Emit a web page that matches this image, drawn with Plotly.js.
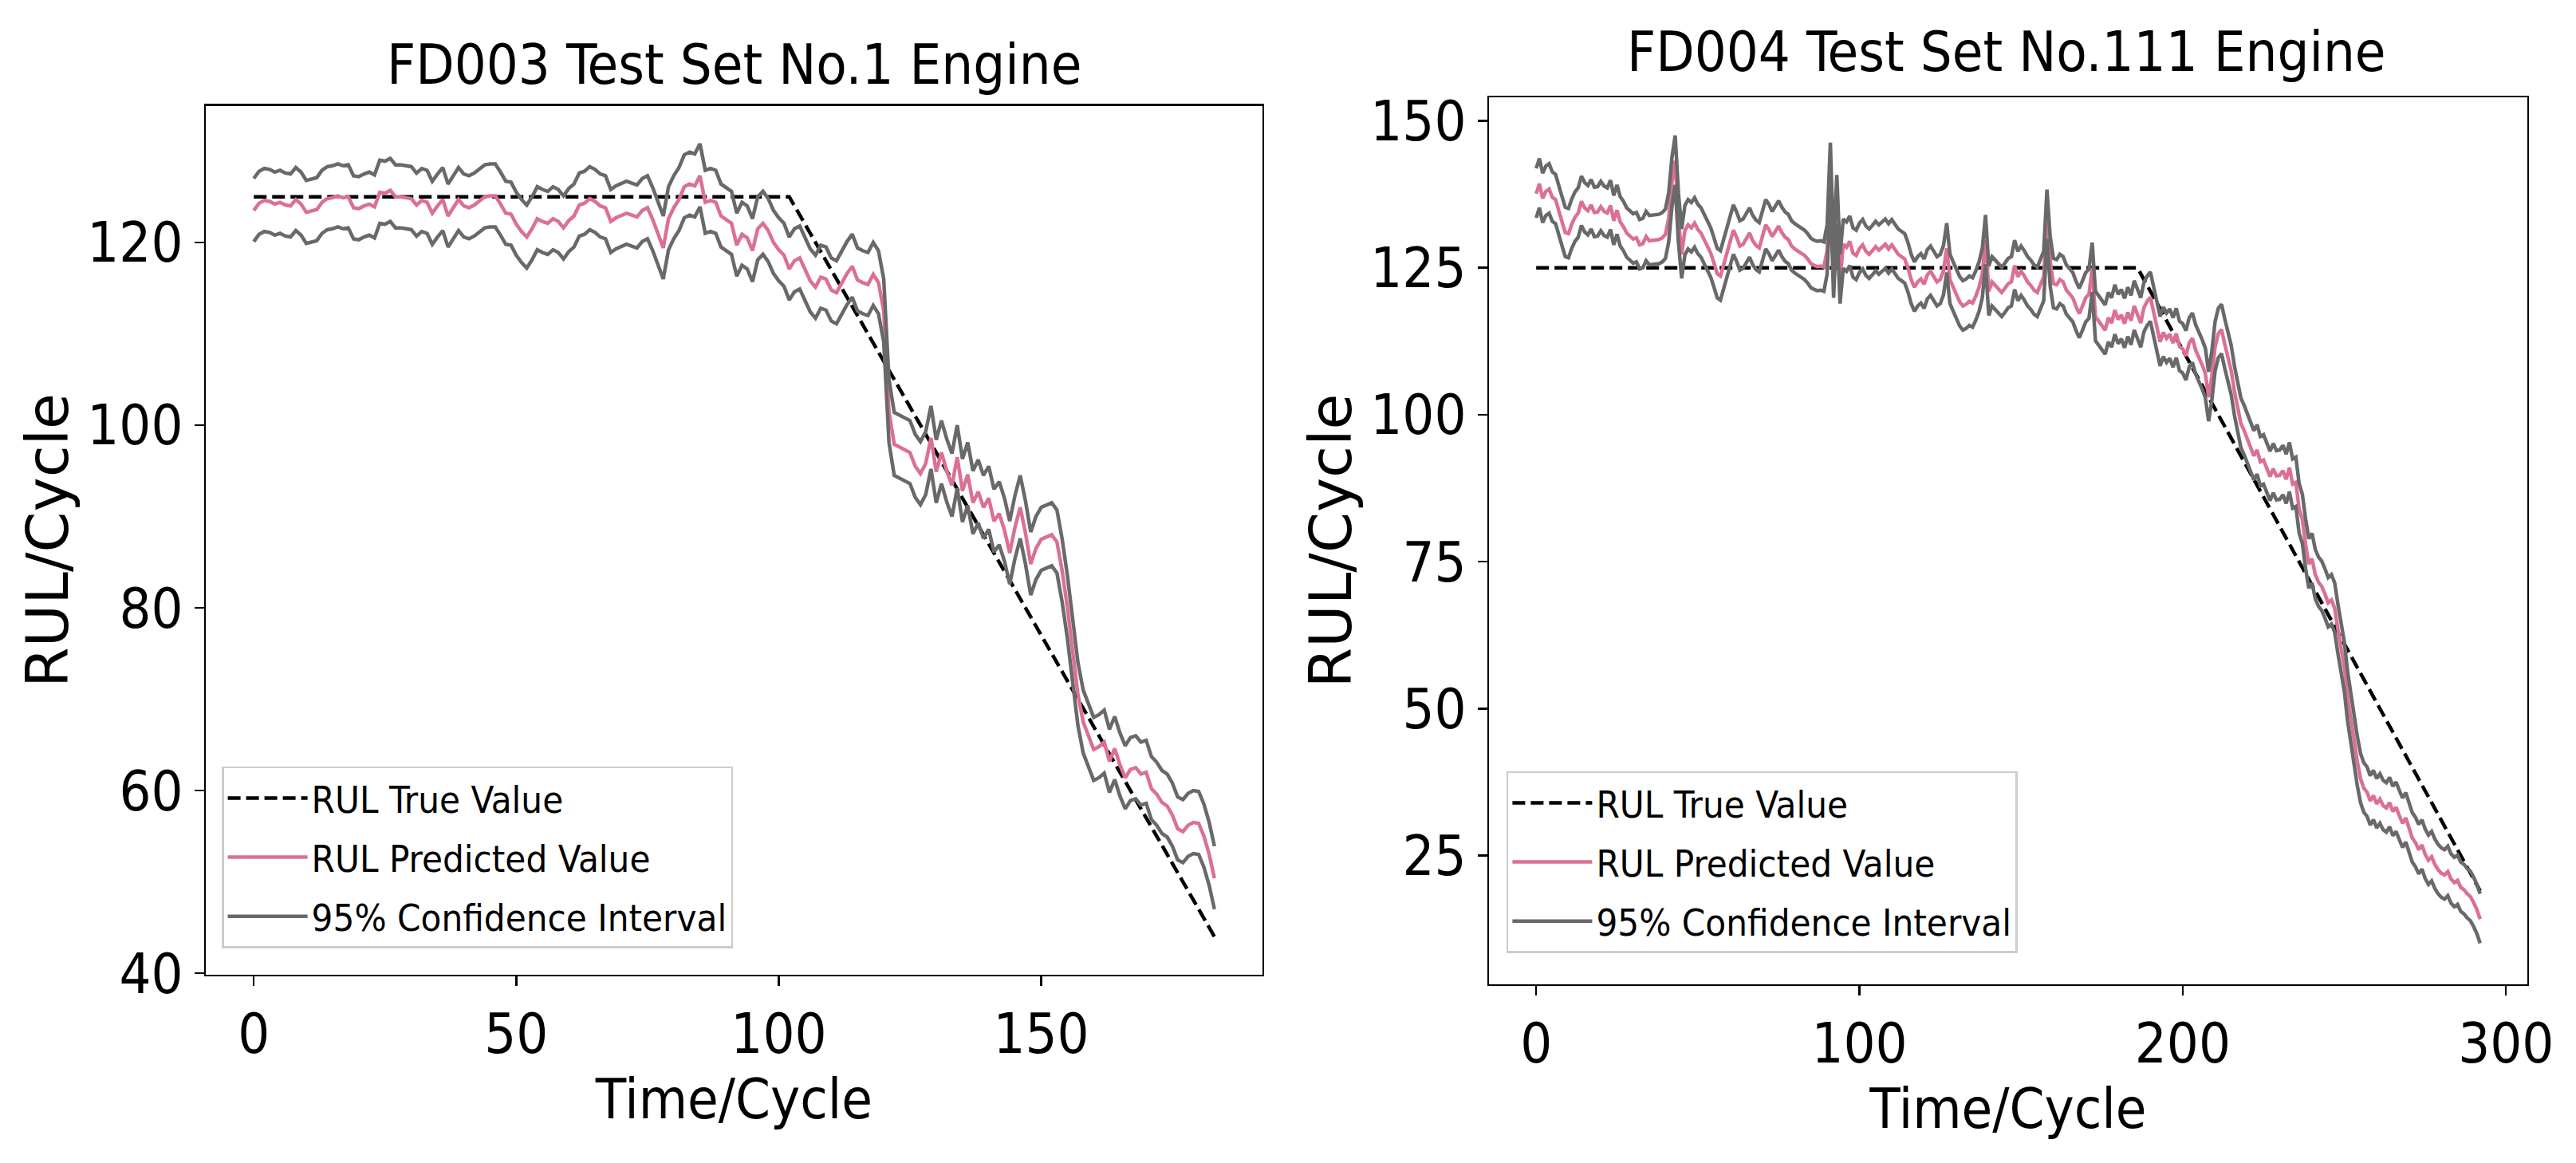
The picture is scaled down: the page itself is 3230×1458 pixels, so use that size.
<!DOCTYPE html>
<html>
<head>
<meta charset="utf-8">
<script src="https://cdn.plot.ly/plotly-3.0.1.min.js"></script>
<style>
html,body{margin:0;padding:0;background:#fff;}
#chart{width:3230px;height:1458px;}
</style>
</head>
<body>
<div id="chart"></div>
<script>
// ---------- FD003 Test Set No.1 Engine ----------
const fd003TrueX = [0, 102, 183];
const fd003TrueY = [125, 125, 44];
const fd003Pred = [
123.5,124.3,124.6,124.5,124.2,124.4,124.1,124.0,124.7,124.2,
123.3,123.4,123.6,124.4,124.8,124.9,125.1,124.9,125.0,123.8,
123.7,124.0,124.2,123.9,125.5,125.4,125.7,125.0,125.0,124.9,
124.8,124.1,124.6,124.4,123.2,124.0,124.7,122.9,123.8,124.7,
124.0,123.8,124.1,124.6,125.0,125.1,125.1,124.2,123.2,123.1,
122.0,121.2,120.6,121.5,122.6,122.3,122.1,122.6,122.3,121.6,
122.4,122.9,124.1,124.3,124.8,124.5,124.0,123.8,122.3,122.7,
122.9,123.2,123.0,122.8,123.5,123.8,122.5,121.0,119.4,122.6,
123.8,124.7,126.1,126.4,126.2,127.3,124.4,124.6,124.4,122.9,
122.5,122.1,119.7,120.9,120.5,119.1,121.5,122.1,121.3,120.0,
119.2,118.6,117.1,118.0,118.3,117.1,115.8,115.1,116.2,116.0,
114.8,114.5,115.6,116.6,117.4,115.9,115.6,115.4,116.5,115.6,
112.5,101.5,97.9,97.6,97.3,97.0,95.5,94.7,95.8,98.6,
94.9,97.0,95.0,93.4,96.5,92.8,94.6,91.5,92.7,91.0,
92.0,89.5,90.3,88.5,86.0,88.8,91.0,88.2,84.8,86.5,
87.5,87.8,88.0,87.2,84.0,80.0,75.5,70.5,67.5,66.1,
64.5,64.8,65.3,63.2,64.6,62.8,61.4,62.3,62.5,61.8,
62.0,60.2,59.6,58.7,58.3,57.3,55.8,55.5,56.2,56.5,
56.4,55.0,53.0,50.4];
const fd003Upper = [
127.0,127.8,128.1,128.0,127.7,127.9,127.6,127.5,128.2,127.7,
126.8,126.9,127.1,127.9,128.3,128.4,128.6,128.4,128.5,127.3,
127.2,127.5,127.7,127.4,129.0,128.9,129.2,128.5,128.5,128.4,
128.3,127.6,128.1,127.9,126.7,127.5,128.2,126.4,127.3,128.2,
127.5,127.3,127.6,128.1,128.5,128.6,128.6,127.7,126.7,126.6,
125.5,124.7,124.1,125.0,126.1,125.8,125.6,126.1,125.8,125.1,
125.9,126.4,127.6,127.8,128.3,128.0,127.5,127.3,125.8,126.2,
126.4,126.7,126.5,126.3,127.0,127.3,126.0,124.5,122.9,126.1,
127.3,128.2,129.6,129.9,129.7,130.8,127.9,128.1,127.9,126.4,
126.0,125.6,123.2,124.4,124.0,122.6,125.0,125.6,124.8,123.5,
122.7,122.1,120.6,121.5,121.8,120.6,119.3,118.6,119.7,119.5,
118.3,118.0,119.1,120.1,120.9,119.4,119.1,118.9,120.0,119.1,
116.0,105.0,101.4,101.1,100.8,100.5,99.0,98.2,99.3,102.1,
98.4,100.5,98.5,96.9,100.0,96.3,98.1,95.0,96.2,94.5,
95.5,93.0,93.8,92.0,89.5,92.3,94.5,91.7,88.3,90.0,
91.0,91.3,91.5,90.7,87.5,83.5,79.0,74.0,71.0,69.6,
68.0,68.3,68.8,66.7,68.1,66.3,64.9,65.8,66.0,65.3,
65.5,63.7,63.1,62.2,61.8,60.8,59.3,59.0,59.7,60.0,
59.9,58.5,56.5,53.9];
const fd003Lower = [
120.1,120.9,121.2,121.1,120.8,121.0,120.7,120.6,121.3,120.8,
119.9,120.0,120.2,121.0,121.4,121.5,121.7,121.5,121.6,120.4,
120.3,120.6,120.8,120.5,122.1,122.0,122.3,121.6,121.6,121.5,
121.4,120.7,121.2,121.0,119.8,120.6,121.3,119.5,120.4,121.3,
120.6,120.4,120.7,121.2,121.6,121.7,121.7,120.8,119.8,119.7,
118.6,117.8,117.2,118.1,119.2,118.9,118.7,119.2,118.9,118.2,
119.0,119.5,120.7,120.9,121.4,121.1,120.6,120.4,118.9,119.3,
119.5,119.8,119.6,119.4,120.1,120.4,119.1,117.6,116.0,119.2,
120.4,121.3,122.7,123.0,122.8,123.9,121.0,121.2,121.0,119.5,
119.1,118.7,116.3,117.5,117.1,115.7,118.1,118.7,117.9,116.6,
115.8,115.2,113.7,114.6,114.9,113.7,112.4,111.7,112.8,112.6,
111.4,111.1,112.2,113.2,114.0,112.5,112.2,112.0,113.1,112.2,
109.1,98.1,94.5,94.2,93.9,93.6,92.1,91.3,92.4,95.2,
91.5,93.6,91.6,90.0,93.1,89.4,91.2,88.1,89.3,87.6,
88.6,86.1,86.9,85.1,82.6,85.4,87.6,84.8,81.4,83.1,
84.1,84.4,84.6,83.8,80.6,76.6,72.1,67.1,64.1,62.7,
61.1,61.4,61.9,59.8,61.2,59.4,58.0,58.9,59.1,58.4,
58.6,56.8,56.2,55.3,54.9,53.9,52.4,52.1,52.8,53.1,
53.0,51.6,49.6,47.0];

// ---------- FD004 Test Set No.111 Engine ----------
const fd004TrueX = [0, 186, 292];
const fd004TrueY = [125, 125, 19];
const fd004Pred = [
137.6,139.3,136.8,138.0,138.4,137.0,136.6,134.5,132.8,131.0,
130.8,132.4,133.6,134.3,136.3,135.2,134.7,135.7,134.4,134.5,
135.4,134.6,134.3,135.6,133.0,134.8,132.8,132.0,130.9,130.4,
129.9,130.1,128.9,129.1,130.3,129.6,129.7,129.8,129.8,130.1,
130.7,133.5,139.5,143.2,133.5,127.3,131.3,132.3,131.8,132.6,
131.5,130.9,129.8,128.9,127.5,125.8,124.0,123.6,125.5,127.1,
129.5,131.4,130.2,128.7,129.0,130.1,130.9,129.6,128.8,128.4,
130.6,132.3,131.5,130.3,131.2,132.1,131.0,130.2,129.8,128.7,
128.2,127.8,127.4,127.1,126.5,125.7,125.4,125.2,125.3,125.1,
128.0,142.0,124.0,136.5,123.0,129.0,128.5,129.5,127.5,127.1,
128.3,128.9,127.8,127.3,127.9,128.6,128.0,128.5,129.0,128.2,
128.9,128.1,127.3,126.9,126.5,125.0,123.0,121.7,122.6,123.1,
122.2,123.8,124.4,123.5,122.6,123.0,124.5,128.3,123.0,121.7,
120.5,119.2,118.5,118.8,119.3,119.0,120.2,121.7,124.0,129.7,
121.0,122.6,122.0,121.3,120.8,121.5,122.3,122.6,125.4,123.5,
124.4,123.6,122.6,122.0,121.2,120.8,122.0,123.5,134.0,126.0,
122.3,122.1,123.0,122.6,121.2,120.5,119.9,118.4,117.2,118.5,
119.9,120.5,125.0,116.7,116.0,115.3,114.4,116.5,115.6,117.8,
116.2,117.0,115.5,117.4,116.0,118.5,117.2,115.6,118.2,119.3,
120.0,117.2,114.5,112.4,114.0,113.0,113.7,112.2,113.8,111.6,
111.2,110.0,112.2,113.0,111.0,109.8,108.5,107.0,103.0,106.5,
111.5,113.8,114.5,112.0,110.0,107.5,104.0,101.0,98.5,97.3,
95.8,94.5,93.0,94.0,92.0,92.3,91.0,89.5,90.8,89.6,
89.7,90.5,89.0,91.0,88.2,88.5,84.0,82.2,78.0,74.6,
75.5,72.8,71.5,70.8,69.5,68.0,68.5,67.1,63.5,60.0,
57.0,52.0,48.0,44.5,41.0,38.1,36.5,35.8,34.3,35.2,
33.8,34.6,33.5,33.1,34.0,32.5,33.2,31.8,30.5,31.4,
29.5,28.0,27.2,26.0,26.8,25.2,24.2,24.8,23.5,22.6,
22.0,21.7,22.3,21.0,20.4,20.8,19.6,19.2,18.5,18.0,
17.0,15.8,14.2];
const fd004Upper = [
141.9,143.6,141.1,142.3,142.7,141.3,140.9,138.8,137.1,135.3,
135.1,136.7,137.9,138.6,140.6,139.5,139.0,140.0,138.7,138.8,
139.7,138.9,138.6,139.9,137.3,139.1,137.1,136.3,135.2,134.7,
134.2,134.4,133.2,133.4,134.6,133.9,134.0,134.1,134.1,134.4,
135.0,137.8,143.8,147.5,137.8,131.6,135.6,136.6,136.1,136.9,
135.8,135.2,134.1,133.2,131.8,130.1,128.3,127.9,129.8,131.4,
133.8,135.7,134.5,133.0,133.3,134.4,135.2,133.9,133.1,132.7,
134.9,136.6,135.8,134.6,135.5,136.4,135.3,134.5,134.1,133.0,
132.5,132.1,131.7,131.4,130.8,130.0,129.7,129.5,129.6,129.4,
132.3,146.3,128.3,140.8,127.3,133.3,132.8,133.8,131.8,131.4,
132.6,133.2,132.1,131.6,132.2,132.9,132.3,132.8,133.3,132.5,
133.2,132.4,131.6,131.2,130.8,129.3,127.3,126.0,126.9,127.4,
126.5,128.1,128.7,127.8,126.9,127.3,128.8,132.6,127.3,126.0,
124.8,123.5,122.8,123.1,123.6,123.3,124.5,126.0,128.3,134.0,
125.3,126.9,126.3,125.6,125.1,125.8,126.6,126.9,129.7,127.8,
128.7,127.9,126.9,126.3,125.5,125.1,126.3,127.8,138.3,130.3,
126.6,126.4,127.3,126.9,125.5,124.8,124.2,122.7,121.5,122.8,
124.2,124.8,129.3,121.0,120.3,119.6,118.7,120.8,119.9,122.1,
120.5,121.3,119.8,121.7,120.3,122.8,121.5,119.9,122.5,123.6,
124.3,121.5,118.8,116.7,118.3,117.3,118.0,116.5,118.1,115.9,
115.5,114.3,116.5,117.3,115.3,114.1,112.8,111.3,107.3,110.8,
115.8,118.1,118.8,116.3,114.3,111.8,108.3,105.3,102.8,101.6,
100.1,98.8,97.3,98.3,96.3,96.6,95.3,93.8,95.1,93.9,
94.0,94.8,93.3,95.3,92.5,92.8,88.3,86.5,82.3,78.9,
79.8,77.1,75.8,75.1,73.8,72.3,72.8,71.4,67.8,64.3,
61.3,56.3,52.3,48.8,45.3,42.4,40.8,40.1,38.6,39.5,
38.1,38.9,37.8,37.4,38.3,36.8,37.5,36.1,34.8,35.7,
33.8,32.3,31.5,30.3,31.1,29.5,28.5,29.1,27.8,26.9,
26.3,26.0,26.6,25.3,24.7,25.1,23.9,23.5,22.8,22.3,
21.3,20.1,18.5];
const fd004Lower = [
133.5,135.2,132.7,133.9,134.3,132.9,132.5,130.4,128.7,126.9,
126.7,128.3,129.5,130.2,132.2,131.1,130.6,131.6,130.3,130.4,
131.3,130.5,130.2,131.5,128.9,130.7,128.7,127.9,126.8,126.3,
125.8,126.0,124.8,125.0,126.2,125.5,125.6,125.7,125.7,126.0,
126.6,129.4,135.4,139.1,129.4,123.2,127.2,128.2,127.7,128.5,
127.4,126.8,125.7,124.8,123.4,121.7,119.9,119.5,121.4,123.0,
125.4,127.3,126.1,124.6,124.9,126.0,126.8,125.5,124.7,124.3,
126.5,128.2,127.4,126.2,127.1,128.0,126.9,126.1,125.7,124.6,
124.1,123.7,123.3,123.0,122.4,121.6,121.3,121.1,121.2,121.0,
123.9,137.9,119.9,132.4,118.9,124.9,124.4,125.4,123.4,123.0,
124.2,124.8,123.7,123.2,123.8,124.5,123.9,124.4,124.9,124.1,
124.8,124.0,123.2,122.8,122.4,120.9,118.9,117.6,118.5,119.0,
118.1,119.7,120.3,119.4,118.5,118.9,120.4,124.2,118.9,117.6,
116.4,115.1,114.4,114.7,115.2,114.9,116.1,117.6,119.9,125.6,
116.9,118.5,117.9,117.2,116.7,117.4,118.2,118.5,121.3,119.4,
120.3,119.5,118.5,117.9,117.1,116.7,117.9,119.4,129.9,121.9,
118.2,118.0,118.9,118.5,117.1,116.4,115.8,114.3,113.1,114.4,
115.8,116.4,120.9,112.6,111.9,111.2,110.3,112.4,111.5,113.7,
112.1,112.9,111.4,113.3,111.9,114.4,113.1,111.5,114.1,115.2,
115.9,113.1,110.4,108.3,109.9,108.9,109.6,108.1,109.7,107.5,
107.1,105.9,108.1,108.9,106.9,105.7,104.4,102.9,98.9,102.4,
107.4,109.7,110.4,107.9,105.9,103.4,99.9,96.9,94.4,93.2,
91.7,90.4,88.9,89.9,87.9,88.2,86.9,85.4,86.7,85.5,
85.6,86.4,84.9,86.9,84.1,84.4,79.9,78.1,73.9,70.5,
71.4,68.7,67.4,66.7,65.4,63.9,64.4,63.0,59.4,55.9,
52.9,47.9,43.9,40.4,36.9,34.0,32.4,31.7,30.2,31.1,
29.7,30.5,29.4,29.0,29.9,28.4,29.1,27.7,26.4,27.3,
25.4,23.9,23.1,21.9,22.7,21.1,20.1,20.7,19.4,18.5,
17.9,17.6,18.2,16.9,16.3,16.7,15.5,15.1,14.4,13.9,
12.9,11.7,10.1];

const seriesNames = ['RUL True Value', 'RUL Predicted Value', '95% Confidence Interval'];
const chartTitles = ['FD003 Test Set No.1 Engine', 'FD004 Test Set No.111 Engine'];
const xLabel = 'Time/Cycle';
const yLabel = 'RUL/Cycle';

// ---------- font pick ----------
function pickFamily() {
  const ctx = document.createElement('canvas').getContext('2d');
  const s = 'FD003 Test Set No.1 Engine';
  const w = f => { ctx.font = '70px ' + f; return ctx.measureText(s).width; };
  const base = w('monospace');
  const cands = ['DejaVu Sans Condensed', 'Liberation Sans Narrow'];
  for (const c of cands) {
    if (Math.abs(w("'" + c + "', monospace") - base) > 0.5) return c + ', DejaVu Sans, sans-serif';
  }
  return 'DejaVu Sans, sans-serif';
}
const FAMILY = pickFamily();
const FAMILY_REG = 'DejaVu Sans, sans-serif';

const PINK = '#DB7093';
const GREY = '#696969';
const LW = 4.5;

function idx(arr) { return arr.map((_, i) => i); }

function tracesFor(trueX, trueY, pred, up, lo, xa, ya, lg) {
  return [
    {x: trueX, y: trueY, type: 'scatter', mode: 'lines', name: seriesNames[0], legendgroup: 'true',
     line: {color: '#000000', width: LW, dash: '16px,7px'}, xaxis: xa, yaxis: ya, legend: lg},
    {x: idx(pred), y: pred, type: 'scatter', mode: 'lines', name: seriesNames[1], legendgroup: 'pred',
     line: {color: PINK, width: LW}, xaxis: xa, yaxis: ya, legend: lg},
    {x: idx(up), y: up, type: 'scatter', mode: 'lines', name: seriesNames[2], legendgroup: 'ci',
     line: {color: GREY, width: LW}, xaxis: xa, yaxis: ya, legend: lg},
    {x: idx(lo), y: lo, type: 'scatter', mode: 'lines', name: seriesNames[2], legendgroup: 'ci', showlegend: false,
     line: {color: GREY, width: LW}, xaxis: xa, yaxis: ya, legend: lg}
  ];
}

const data = [
  ...tracesFor(fd003TrueX, fd003TrueY, fd003Pred, fd003Upper, fd003Lower, 'x', 'y', 'legend'),
  ...tracesFor(fd004TrueX, fd004TrueY, fd004Pred, fd004Upper, fd004Lower, 'x2', 'y2', 'legend2')
];

const TICKF = {family: FAMILY, size: 70, color: '#000'};
const XTITLEF = {family: FAMILY, size: 70, color: '#000'};
const YTITLEF = {family: FAMILY_REG, size: 73, color: '#000'};
function axisBase(extra) {
  return Object.assign({
    showline: true, mirror: true, linecolor: '#000', linewidth: 2.5,
    ticks: 'outside', ticklen: 12, tickwidth: 2.5, tickcolor: '#000',
    showgrid: false, zeroline: false, tickfont: TICKF, automargin: false
  }, extra);
}
const legendBase = {
  xanchor: 'left', yanchor: 'top', bgcolor: 'rgba(255,255,255,0.8)',
  bordercolor: '#cccccc', borderwidth: 2.5, itemwidth: 100,
  traceorder: 'grouped', tracegroupgap: 10,
  font: {family: FAMILY, size: 47, color: '#000'}
};

const layout = {
  width: 3230, height: 1458,
  margin: {l: 0, r: 0, t: 0, b: 0, pad: 0},
  paper_bgcolor: '#fff', plot_bgcolor: '#fff',
  showlegend: true,
  xaxis: axisBase({domain: [0.07988, 0.49009], range: [-9.15, 192.15], dtick: 50, tick0: 0, anchor: 'y',
    title: {text: xLabel, font: XTITLEF, standoff: 1}}),
  yaxis: axisBase({domain: [0.16187, 0.90878], range: [39.83, 134.93], dtick: 20, tick0: 0, anchor: 'x',
    title: {text: yLabel, font: YTITLEF, standoff: 0}}),
  xaxis2: axisBase({domain: [0.57802, 0.98111], range: [-14.6, 306.6], dtick: 100, tick0: 0, anchor: 'y2',
    title: {text: xLabel, font: XTITLEF, standoff: 1}}),
  yaxis2: axisBase({domain: [0.15364, 0.91632], range: [3.1, 154.0], dtick: 25, tick0: 0, anchor: 'x2',
    title: {text: yLabel, font: YTITLEF, standoff: 0}}),
  legend: Object.assign({x: 0.0861, y: 0.3409}, legendBase),
  legend2: Object.assign({x: 0.5848, y: 0.3368}, legendBase),
  annotations: [
    {text: chartTitles[0], xref: 'paper', yref: 'paper', x: 0.2850, y: 0.9445, xanchor: 'center', yanchor: 'middle',
     showarrow: false, font: {family: FAMILY, size: 70, color: '#000'}},
    {text: chartTitles[1], xref: 'paper', yref: 'paper', x: 0.7790, y: 0.9555, xanchor: 'center', yanchor: 'middle',
     showarrow: false, font: {family: FAMILY, size: 70, color: '#000'}}
  ]
};

Plotly.newPlot('chart', data, layout, {staticPlot: true, displayModeBar: false});
</script>
</body>
</html>
